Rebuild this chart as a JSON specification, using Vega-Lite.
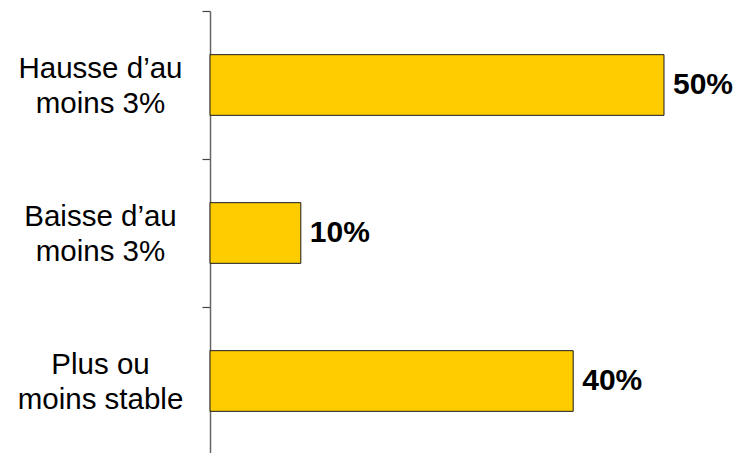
{
  "$schema": "https://vega.github.io/schema/vega-lite/v6.json",
  "width": 528,
  "height": 444,
  "autosize": {"type": "none"},
  "padding": {"left": 210, "top": 11, "right": 0, "bottom": 0},
  "background": "white",
  "config": {"view": {"stroke": null}, "font": "Liberation Sans"},
  "data": {
    "values": [
      {"categorie": "Hausse d’au\nmoins 3%", "ordre": 1, "part": 0.5},
      {"categorie": "Baisse d’au\nmoins 3%", "ordre": 2, "part": 0.1},
      {"categorie": "Plus ou\nmoins stable", "ordre": 3, "part": 0.4}
    ]
  },
  "encoding": {
    "y": {
      "field": "categorie",
      "type": "nominal",
      "sort": {"field": "ordre"},
      "scale": {"paddingInner": 0, "paddingOuter": 0},
      "axis": {
        "title": null,
        "labelExpr": "split(datum.label, '\\n')",
        "labelAlign": "center",
        "labelBaseline": "middle",
        "labelOffset": -17,
        "labelPadding": 102,
        "labelFontSize": 29.5,
        "labelLineHeight": 35,
        "labelColor": "black",
        "labelFont": "Liberation Sans",
        "tickBand": "extent",
        "tickSize": 8,
        "tickColor": "#444",
        "tickWidth": 1.2,
        "domainColor": "#666",
        "domainWidth": 1.5,
        "grid": false
      }
    },
    "x": {
      "field": "part",
      "type": "quantitative",
      "scale": {"domain": [0, 0.5815], "nice": false, "zero": true},
      "axis": null
    }
  },
  "layer": [
    {
      "mark": {"type": "bar", "color": "#FFCC00", "stroke": "#1a1a1a", "strokeWidth": 1, "height": {"band": 0.41}}
    },
    {
      "mark": {"type": "text", "align": "left", "baseline": "middle", "dx": 9, "fontSize": 30, "fontWeight": "bold", "color": "black", "font": "Liberation Sans"},
      "encoding": {"text": {"field": "part", "type": "quantitative", "format": ".0%"}}
    }
  ]
}
